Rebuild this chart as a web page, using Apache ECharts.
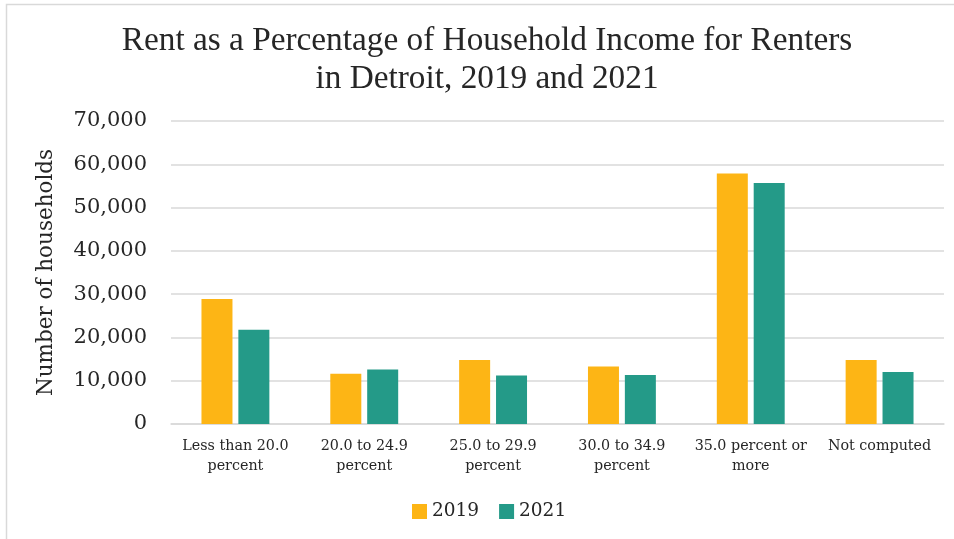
<!DOCTYPE html>
<html>
<head>
<meta charset="utf-8">
<title>Rent as a Percentage of Household Income for Renters in Detroit</title>
<script src="https://cdn.jsdelivr.net/npm/echarts@6/dist/echarts.min.js"></script>
<style>
  html, body { margin: 0; padding: 0; background: #ffffff; }
  #chart { width: 954px; height: 539px; }
</style>
</head>
<body>
<div id="chart"></div>
<script>
// Rent burden brackets (share of household income spent on rent)
const categories = [
  'Less than 20.0\npercent',
  '20.0 to 24.9\npercent',
  '25.0 to 29.9\npercent',
  '30.0 to 34.9\npercent',
  '35.0 percent or\nmore',
  'Not computed'
];

// Renter households per bracket
const households2019 = [28900, 11600, 14800, 13300, 57900, 14800];
const households2021 = [21800, 12600, 11200, 11300, 55700, 12000];

const seriesNames = ['2019', '2021'];

const yMin = 0;
const yMax = 70000;
const yStep = 10000;

const serif = 'DejaVu Serif';
const textColor = '#262626';
const gridColor = '#d9d9d9';

const chart = echarts.init(document.getElementById('chart'), null, { renderer: 'canvas' });

chart.setOption({
  backgroundColor: '#ffffff',
  animation: false,
  title: {
    text: 'Rent as a Percentage of Household Income for Renters\nin Detroit, 2019 and 2021',
    left: 482,
    top: 17,
    textAlign: 'center',
    textStyle: {
      fontFamily: 'Liberation Serif',
      fontSize: 33.3,
      fontWeight: 'normal',
      lineHeight: 38,
      color: textColor
    }
  },
  graphic: [
    {
      type: 'rect',
      silent: true,
      shape: { x: 6.5, y: 4.5, width: 1000, height: 600 },
      style: { fill: null, stroke: gridColor, lineWidth: 1.5 }
    }
  ],
  legend: {
    data: seriesNames,
    left: 407,
    top: 497,
    itemWidth: 15,
    itemHeight: 15,
    itemGap: 20,
    icon: 'rect',
    textStyle: {
      fontFamily: serif,
      fontSize: 18.5,
      color: textColor
    }
  },
  grid: {
    left: 171,
    right: 10,
    top: 121,
    bottom: 115,
    containLabel: false
  },
  xAxis: {
    type: 'category',
    data: categories,
    axisTick: { show: false },
    axisLine: { lineStyle: { color: gridColor, width: 1.5 } },
    axisLabel: {
      interval: 0,
      margin: 12,
      fontFamily: serif,
      fontSize: 14.3,
      lineHeight: 20,
      color: textColor
    }
  },
  yAxis: {
    type: 'value',
    min: yMin,
    max: yMax,
    interval: yStep,
    name: 'Number of households',
    nameLocation: 'middle',
    nameGap: 114,
    nameTextStyle: {
      fontFamily: serif,
      fontSize: 21.5,
      color: textColor
    },
    axisLine: { show: false },
    axisTick: { show: false },
    splitLine: { lineStyle: { color: gridColor, width: 1.5 } },
    axisLabel: {
      margin: 24,
      fontFamily: serif,
      fontSize: 21,
      color: textColor,
      formatter: function (v) { return v.toLocaleString('en-US'); }
    }
  },
  series: [
    {
      name: seriesNames[0],
      type: 'bar',
      data: households2019,
      barWidth: 31,
      barGap: '19%',
      itemStyle: { color: '#FDB515' }
    },
    {
      name: seriesNames[1],
      type: 'bar',
      data: households2021,
      barWidth: 31,
      barGap: '19%',
      itemStyle: { color: '#249A88' }
    }
  ]
});
</script>
</body>
</html>
